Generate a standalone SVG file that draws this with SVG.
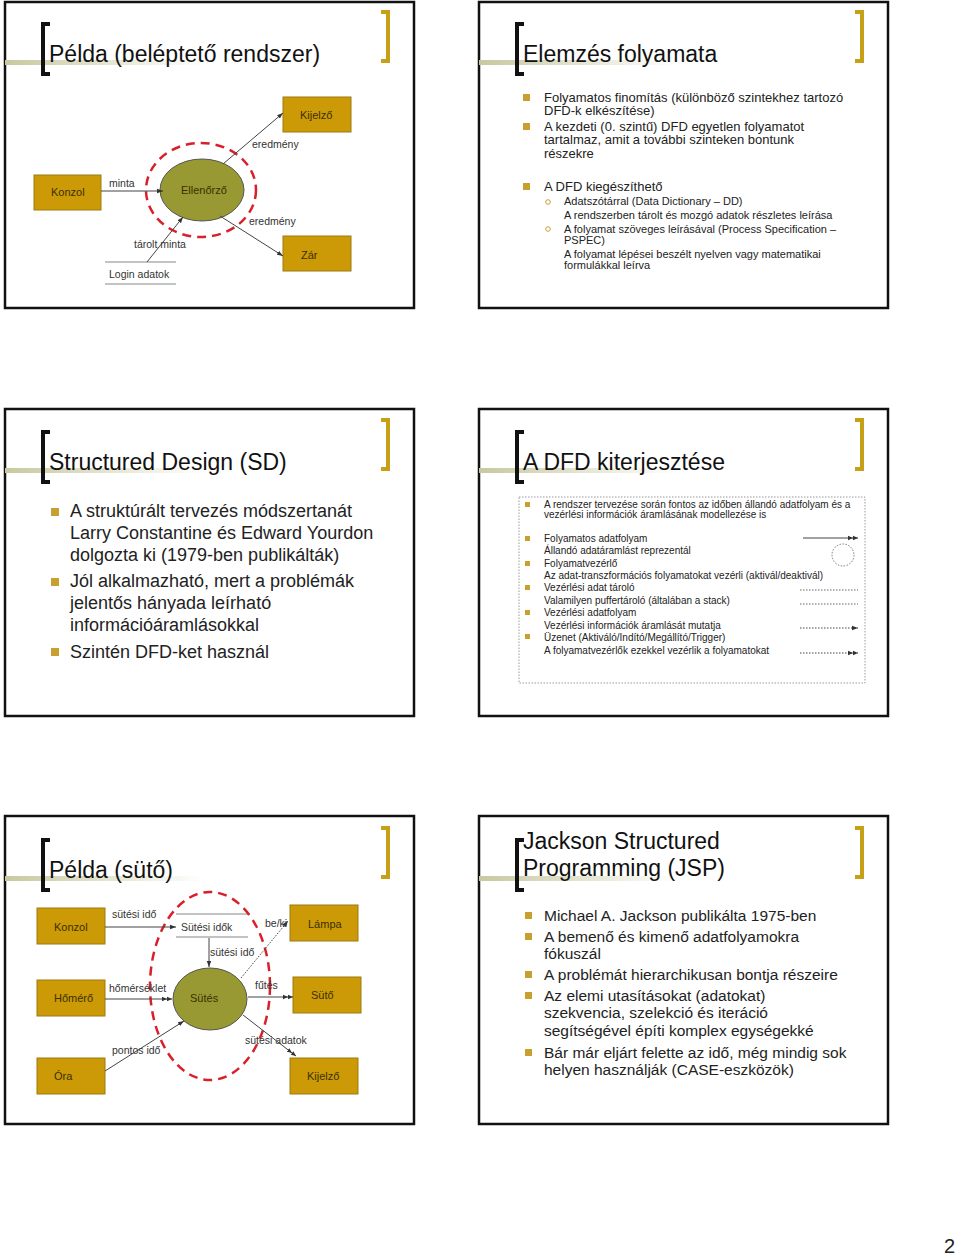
<svg xmlns="http://www.w3.org/2000/svg" width="960" height="1256" viewBox="0 0 960 1256">
<style>
text{font-family:"Liberation Sans",Arial,sans-serif;fill:#222}
.panel{fill:#fff;stroke:#111;stroke-width:2.5}
.title{font-size:23px;fill:#111}
.box{fill:#cc9a06;stroke:#9c7a10;stroke-width:1}
.bt{font-size:11px;fill:#3a3000}
.proc{fill:#999933;stroke:#555;stroke-width:1}
.red{fill:none;stroke:#d8202a;stroke-width:2.5;stroke-dasharray:9 6}
.ln{stroke:#444;stroke-width:1;fill:none}
.lbl{font-size:10.5px;fill:#333}
.store{stroke:#888;stroke-width:1.2}
.bul{fill:#c8a030}
.lb{font-bracket:0}
</style>
<defs>
<marker id="a" viewBox="0 0 8 8" refX="8" refY="4" markerWidth="6" markerHeight="6" orient="auto"><path d="M0,1 L8,4 L0,7 z" fill="#333"/></marker>
<marker id="aa" viewBox="0 0 14 8" refX="14" refY="4" markerWidth="10" markerHeight="6" orient="auto"><path d="M0,1 L7,4 L0,7 z M7,1 L14,4 L7,7 z" fill="#333"/></marker>
<linearGradient id="g" x1="0" x2="1"><stop offset="0" stop-color="#c8c8a0"/><stop offset="1" stop-color="#c8c8a0" stop-opacity="0"/></linearGradient>
<g id="deco">
<rect x="0" y="60" width="200" height="5" fill="url(#g)"/>
<path d="M45,24 H38 V74 H45" fill="none" stroke="#111" stroke-width="4"/>
<path d="M376,12 H383 V61 H376" fill="none" stroke="#c8a018" stroke-width="4"/>
</g>
</defs>

<!-- Panel 1 -->
<g id="panel1">
<rect class="panel" x="5" y="2" width="409" height="306"/>
<use href="#deco" x="5" y="0"/>
<text class="title" x="49" y="62">Példa (beléptető rendszer)</text>
</g>
<g id="kijelzo1"><rect class="box" x="283" y="97" width="68" height="35"/><text class="bt" x="300" y="119">Kijelző</text></g>
<g id="konzol1"><rect class="box" x="34" y="175" width="67" height="35"/><text class="bt" x="51" y="196">Konzol</text></g>
<g id="zar1"><rect class="box" x="283" y="236" width="68" height="35"/><text class="bt" x="301" y="259">Zár</text></g>
<g id="ellenorzo"><ellipse class="red" cx="201" cy="190" rx="55" ry="47"/><ellipse class="proc" cx="202" cy="190" rx="42" ry="31"/><text class="bt" x="181" y="194">Ellenőrző</text></g>
<g id="login"><line class="store" x1="105" y1="262" x2="176" y2="262"/><line class="store" x1="105" y1="284" x2="176" y2="284"/><text class="lbl" x="109" y="278">Login adatok</text></g>
<g id="conn1">
<line class="ln" x1="101" y1="191" x2="163" y2="191" marker-end="url(#a)"/>
<line class="ln" x1="223" y1="164" x2="283" y2="113" marker-end="url(#a)"/>
<line class="ln" x1="220" y1="216" x2="283" y2="256" marker-end="url(#a)"/>
<line class="ln" x1="147" y1="262" x2="183" y2="217" marker-end="url(#a)"/>
<text class="lbl" x="252" y="148">eredmény</text>
<text class="lbl" x="109" y="187">minta</text>
<text class="lbl" x="249" y="225">eredmény</text>
<text class="lbl" x="134" y="248">tárolt minta</text>
</g>

<!-- Panel 2 -->
<g id="panel2">
<rect class="panel" x="479" y="2" width="409" height="306"/>
<use href="#deco" x="479" y="0"/>
<text class="title" x="523" y="62">Elemzés folyamata</text>
<g font-size="13">
<rect class="bul" x="523" y="94" width="7" height="7"/><rect class="bul" x="523" y="123" width="7" height="7"/><rect class="bul" x="523" y="183" width="7" height="7"/>
<text x="544" y="102" font-size="13">Folyamatos finomítás (különböző szintekhez tartozó</text>
<text x="544" y="115" font-size="13">DFD-k elkészítése)</text>
<text x="544" y="131" font-size="13">A kezdeti (0. szintű) DFD egyetlen folyamatot</text>
<text x="544" y="144" font-size="13">tartalmaz, amit a további szinteken bontunk</text>
<text x="544" y="158" font-size="13">részekre</text>
<text x="544" y="191" font-size="13">A DFD kiegészíthető</text>
</g>
<circle cx="548" cy="202" r="2.3" fill="none" stroke="#c8a030"/><circle cx="548" cy="229" r="2.3" fill="none" stroke="#c8a030"/>
<text x="564" y="205" font-size="11">Adatszótárral (Data Dictionary – DD)</text>
<text x="564" y="219" font-size="11">A rendszerben tárolt és mozgó adatok részletes leírása</text>
<text x="564" y="233" font-size="11">A folyamat szöveges leírásával (Process Specification –</text>
<text x="564" y="244" font-size="11">PSPEC)</text>
<text x="564" y="258" font-size="11">A folyamat lépései beszélt nyelven vagy matematikai</text>
<text x="564" y="269" font-size="11">formulákkal leírva</text>
</g>

<!-- Panel 3 -->
<g id="panel3">
<rect class="panel" x="5" y="409" width="409" height="307"/>
<use href="#deco" x="5" y="408"/>
<text class="title" x="49" y="470">Structured Design (SD)</text>
<g font-size="18">
<rect class="bul" x="51" y="508" width="8" height="8"/><rect class="bul" x="51" y="578" width="8" height="8"/><rect class="bul" x="51" y="648" width="8" height="8"/>
<text x="70" y="517" font-size="18">A struktúrált tervezés módszertanát</text>
<text x="70" y="539" font-size="18">Larry Constantine és Edward Yourdon</text>
<text x="70" y="561" font-size="18">dolgozta ki (1979-ben publikálták)</text>
<text x="70" y="587" font-size="18">Jól alkalmazható, mert a problémák</text>
<text x="70" y="609" font-size="18">jelentős hányada leírható</text>
<text x="70" y="631" font-size="18">információáramlásokkal</text>
<text x="70" y="658" font-size="18">Szintén DFD-ket használ</text>
</g>
</g>

<!-- Panel 4 -->
<g id="panel4">
<rect class="panel" x="479" y="409" width="409" height="307"/>
<use href="#deco" x="479" y="408"/>
<text class="title" x="523" y="470">A DFD kiterjesztése</text>
<rect x="519" y="497" width="346" height="186" fill="none" stroke="#999" stroke-dasharray="1.5 1.5"/>
<g>
<rect class="bul" x="525" y="502" width="5" height="5"/><rect class="bul" x="525" y="536" width="5" height="5"/><rect class="bul" x="525" y="561" width="5" height="5"/><rect class="bul" x="525" y="585" width="5" height="5"/><rect class="bul" x="525" y="610" width="5" height="5"/><rect class="bul" x="525" y="634" width="5" height="5"/>
<text x="544" y="508" font-size="10">A rendszer tervezése során fontos az időben állandó adatfolyam és a</text>
<text x="544" y="518" font-size="10">vezérlési információk áramlásának modellezése is</text>
<text x="544" y="542" font-size="10">Folyamatos adatfolyam</text>
<text x="544" y="554" font-size="10">Állandó adatáramlást reprezentál</text>
<text x="544" y="567" font-size="10">Folyamatvezérlő</text>
<text x="544" y="579" font-size="10">Az adat-transzformációs folyamatokat vezérli (aktivál/deaktivál)</text>
<text x="544" y="591" font-size="10">Vezérlési adat tároló</text>
<text x="544" y="604" font-size="10">Valamilyen puffertároló (általában a stack)</text>
<text x="544" y="616" font-size="10">Vezérlési adatfolyam</text>
<text x="544" y="629" font-size="10">Vezérlési információk áramlását mutatja</text>
<text x="544" y="641" font-size="10">Üzenet (Aktiváló/Indító/Megállító/Trigger)</text>
<text x="544" y="654" font-size="10">A folyamatvezérlők ezekkel vezérlik a folyamatokat</text>
</g>
<line class="ln" x1="803" y1="538" x2="858" y2="538" stroke-width="1.2" marker-end="url(#aa)"/>
<circle cx="843" cy="555" r="11" fill="none" stroke="#777" stroke-dasharray="1.5 1.5"/>
<line x1="800" y1="590" x2="858" y2="590" stroke="#666" stroke-dasharray="1.5 1.5"/>
<line x1="800" y1="604" x2="858" y2="604" stroke="#666" stroke-dasharray="1.5 1.5"/>
<line x1="800" y1="628" x2="858" y2="628" stroke="#444" stroke-dasharray="1.5 1.5" marker-end="url(#a)"/>
<line x1="800" y1="653" x2="858" y2="653" stroke="#444" stroke-dasharray="1.5 1.5" marker-end="url(#aa)"/>
</g>

<!-- Panel 5 -->
<g id="panel5">
<rect class="panel" x="5" y="816" width="409" height="308"/>
<use href="#deco" x="5" y="816"/>
<text class="title" x="49" y="878">Példa (sütő)</text>
</g>
<g id="konzol2"><rect class="box" x="37" y="908" width="68" height="36"/><text class="bt" x="54" y="931">Konzol</text></g>
<g id="homero"><rect class="box" x="37" y="980" width="68" height="36"/><text class="bt" x="54" y="1002">Hőmérő</text></g>
<g id="ora"><rect class="box" x="37" y="1058" width="68" height="36"/><text class="bt" x="54" y="1080">Óra</text></g>
<g id="lampa"><rect class="box" x="290" y="905" width="68" height="36"/><text class="bt" x="308" y="928">Lámpa</text></g>
<g id="suto"><rect class="box" x="293" y="977" width="68" height="36"/><text class="bt" x="311" y="999">Sütő</text></g>
<g id="kijelzo2"><rect class="box" x="290" y="1058" width="68" height="36"/><text class="bt" x="307" y="1080">Kijelző</text></g>
<g id="sutesi_idok"><line class="store" x1="176" y1="914" x2="248" y2="914"/><line class="store" x1="176" y1="937" x2="248" y2="937"/><text class="lbl" x="181" y="931">Sütési idők</text></g>
<g id="sutes"><ellipse class="red" cx="210" cy="986" rx="60" ry="94"/><ellipse class="proc" cx="210" cy="999" rx="37" ry="31"/><text class="bt" x="190" y="1002">Sütés</text></g>
<g id="conn2">
<line class="ln" x1="105" y1="927" x2="176" y2="927" marker-end="url(#a)"/>
<line class="ln" x1="209" y1="938" x2="209" y2="967" marker-end="url(#a)"/>
<line class="ln" x1="105" y1="999" x2="172" y2="999" marker-end="url(#aa)"/>
<line class="ln" x1="105" y1="1071" x2="184" y2="1021" marker-end="url(#a)"/>
<line class="ln" x1="248" y1="997" x2="293" y2="997" marker-end="url(#aa)"/>
<line class="ln" x1="243" y1="1015" x2="296" y2="1056" marker-end="url(#aa)"/>
<line class="ln" x1="241" y1="978" x2="288" y2="921" stroke-dasharray="1.5 1.5" marker-end="url(#a)"/>
<text class="lbl" x="112" y="918">sütési idő</text>
<text class="lbl" x="210" y="956">sütési idő</text>
<text class="lbl" x="265" y="927">be/ki</text>
<text class="lbl" x="109" y="992">hőmérséklet</text>
<text class="lbl" x="255" y="989">fűtés</text>
<text class="lbl" x="112" y="1054">pontos idő</text>
<text class="lbl" x="245" y="1044">sütési adatok</text>
</g>

<!-- Panel 6 -->
<g id="panel6">
<rect class="panel" x="479" y="816" width="409" height="308"/>
<use href="#deco" x="479" y="816"/>
<text class="title" x="523" y="849">Jackson Structured</text>
<text class="title" x="523" y="876">Programming (JSP)</text>
<rect class="bul" x="525" y="912" width="7" height="7"/><rect class="bul" x="525" y="933" width="7" height="7"/><rect class="bul" x="525" y="971" width="7" height="7"/><rect class="bul" x="525" y="992" width="7" height="7"/><rect class="bul" x="525" y="1049" width="7" height="7"/>
<text x="544" y="921" font-size="15.5">Michael A. Jackson publikálta 1975-ben</text>
<text x="544" y="942" font-size="15.5">A bemenő és kimenő adatfolyamokra</text>
<text x="544" y="959" font-size="15.5">fókuszál</text>
<text x="544" y="980" font-size="15.5">A problémát hierarchikusan bontja részeire</text>
<text x="544" y="1001" font-size="15.5">Az elemi utasításokat (adatokat)</text>
<text x="544" y="1018" font-size="15.5">szekvencia, szelekció és iteráció</text>
<text x="544" y="1036" font-size="15.5">segítségével építi komplex egységekké</text>
<text x="544" y="1058" font-size="15.5">Bár már eljárt felette az idő, még mindig sok</text>
<text x="544" y="1075" font-size="15.5">helyen használják (CASE-eszközök)</text>
</g>
<text x="944" y="1253" font-size="20" fill="#111">2</text>
</svg>
